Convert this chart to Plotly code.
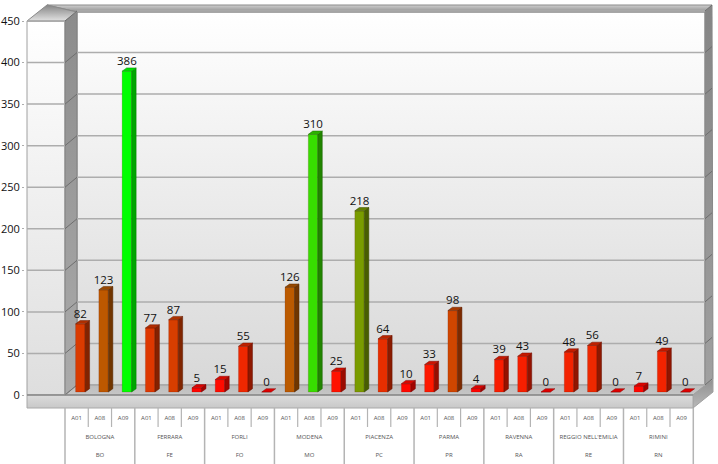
import plotly.graph_objects as go

# ---------- data ----------
codes = ["A01", "A08", "A09"]
provinces = ["BOLOGNA", "FERRARA", "FORLI", "MODENA", "PIACENZA", "PARMA", "RAVENNA", "REGGIO NELL'EMILIA", "RIMINI"]
sigle = ["BO", "FE", "FO", "MO", "PC", "PR", "RA", "RE", "RN"]
values = [82, 123, 386, 77, 87, 5, 15, 55, 0, 126, 310, 25, 218, 64, 10,
          33, 98, 4, 39, 43, 0, 48, 56, 0, 7, 49, 0]
y_ticks = [0, 50, 100, 150, 200, 250, 300, 350, 400, 450]

# ---------- scene geometry (pixel scale of the 718x464 page) ----------
W, H = 718, 464
ML = 25
UX = 23.27          # px per bar slot
X0 = 65             # px of left edge of slot 0
UY = 374 / 450      # px per value unit
Y0 = 395            # px of value 0


def dx(px):
    return -0.5 + (px - X0) / UX


def dy(py):
    return (Y0 - py) / UY


def ypx(v):
    return Y0 - v * UY


fig = go.Figure()


def poly(pts, c_low, c_high=None, line="rgba(120,120,120,0.9)", lw=1):
    """Chrome polygon on the primary axes; c_low bottom colour, c_high top colour."""
    xs = [dx(p[0]) for p in pts] + [dx(pts[0][0])]
    ys = [dy(p[1]) for p in pts] + [dy(pts[0][1])]
    tr = dict(x=xs, y=ys, mode="lines", line=dict(color=line, width=lw), fill="toself",
              hoverinfo="skip", showlegend=False)
    if c_high is None:
        tr["fillcolor"] = c_low
    else:
        tr["fillgradient"] = dict(type="vertical", colorscale=[[0, c_low], [1, c_high]])
    fig.add_trace(go.Scatter(**tr))


def seg(p, q, color="#adadad", w=1.5):
    fig.add_trace(go.Scatter(x=[dx(p[0]), dx(q[0])], y=[dy(p[1]), dy(q[1])], mode="lines",
                             line=dict(color=color, width=w), hoverinfo="skip", showlegend=False))


TOP = ypx(450)
BX, BD = 77, 10     # back wall offset
RB = 705            # back wall right edge
FR = 693            # front right edge
SL = 408            # slab bottom

# walls
poly([(77, 12), (RB, 12), (RB, 385), (77, 385)], "#d8d8d8", "#ffffff", line="#8c8c8c")
poly([(27, TOP), (65, TOP), (65, 395), (27, 395)], "#dedede", "#ffffff", line="#a0a0a0")
poly([(65, TOP), (77, 12), (77, 385), (65, 395)], "#ababab", "#8c8c8c", line="#808080")
poly([(RB, 12), (712, 5), (713, 379), (RB, 385)], "#a0a0a0", "#858585", line="#888888")
# top band and corner
poly([(47, 5), (712, 5), (RB, 12), (77, 12)], "#8f8f8f", "#cfcfcf", line="#8a8a8a")
poly([(27, TOP), (47, 5), (77, 12), (65, TOP)], "#e2e2e2", "#858585", line="#8a8a8a")
# floor and slab
poly([(65, 395), (77, 385), (RB, 385), (713, 379), (FR, 395)], "#c6c6c6", "#b8b8b8", line="#a0a0a0")
poly([(FR, 395), (713, 379), (713, 392), (FR, SL)], "#b8b8b8", "#909090", line="#a0a0a0")
poly([(27, 395), (FR, 395), (FR, SL), (27, SL)], "#c8c8c8", "#dcdcdc", line="#a8a8a8")

# grid
for t in y_ticks:
    yf = ypx(t)
    if t:
        seg((27, yf), (65, yf))
    seg((65, yf), (77, yf - BD), color="#6e6e6e", w=1)
    seg((77, yf - BD), (RB, yf - BD))
    seg((RB, yf - BD), (712, yf - BD - 6), color="#6e6e6e", w=1)
seg((27, 395), (FR, 395), color="#8a8a8a", w=1.5)

# table below the slab
n = len(values)
for i in range(n + 1):
    px = X0 + i * UX
    if i % len(codes) == 0:
        seg((px, SL), (px, H), color="#b4b4b4", w=1.5)
    else:
        seg((px, SL), (px, 427), color="#b4b4b4", w=1.2)

LAB = "#555555"
FONT = "Open Sans, sans-serif"
xs_all = list(range(n))
fig.add_trace(go.Scatter(x=xs_all, y=[dy(418)] * n, mode="text",
                         text=[codes[i % 3] for i in range(n)],
                         textfont=dict(size=6, color=LAB, family=FONT),
                         hoverinfo="skip", showlegend=False))
gx = [3 * g + 1 for g in range(len(provinces))]
fig.add_trace(go.Scatter(x=gx, y=[dy(437)] * len(gx), mode="text", text=provinces,
                         textfont=dict(size=6, color=LAB, family=FONT),
                         hoverinfo="skip", showlegend=False))
fig.add_trace(go.Scatter(x=gx, y=[dy(455.5)] * len(gx), mode="text", text=sigle,
                         textfont=dict(size=6, color=LAB, family=FONT),
                         hoverinfo="skip", showlegend=False))

# ---------- bars (overlay axes so they sit above the chrome) ----------
vmax = max(values)


def rgb(v, k=1.0):
    t = v / vmax
    s = 1.12 * k
    return "rgb(%d,%d,0)" % (min(255, round(255 * (1 - t) * s)), min(255, round(255 * t * s)))


BASE = 3.6          # bars stand a little behind the zero line
BW = 9.5 / UX
SHIFT = 3.7 / UX
DX = 4.5 / UX
DY = 3.3 / UY
bx = [i + SHIFT for i in xs_all]

fig.add_trace(go.Bar(x=bx, y=values, base=BASE, width=BW, xaxis="x2", yaxis="y2",
                     marker=dict(color=[rgb(v, 0.97) for v in values],
                                 line=dict(color="rgba(90,20,0,0.35)", width=0.5)),
                     hoverinfo="skip", showlegend=False))
for x, v in zip(bx, values):
    l, r = x - BW / 2, x + BW / 2
    top = BASE + v
    if v > 0:
        fig.add_trace(go.Scatter(x=[r, r + DX, r + DX, r, r], y=[BASE, BASE + DY, top + DY, top, BASE],
                                 xaxis="x2", yaxis="y2", mode="lines", fill="toself",
                                 fillcolor=rgb(v, 0.58), line=dict(color=rgb(v, 0.42), width=0.5),
                                 hoverinfo="skip", showlegend=False))
    fig.add_trace(go.Scatter(x=[l, l + DX, r + DX, r, l], y=[top, top + DY, top + DY, top, top],
                             xaxis="x2", yaxis="y2", mode="lines", fill="toself",
                             fillcolor=rgb(v, 0.78), line=dict(color=rgb(v, 0.48), width=0.5),
                             hoverinfo="skip", showlegend=False))

fig.add_trace(go.Scatter(x=bx, y=[BASE + v + DY for v in values], xaxis="x2", yaxis="y2",
                         mode="text", text=[str(v) for v in values], textposition="top center",
                         textfont=dict(size=11.5, color="#111111", family=FONT),
                         hoverinfo="skip", showlegend=False))

xr = [dx(ML), dx(W)]
yr = [dy(H), dy(0)]
fig.update_layout(
    width=W, height=H, autosize=False,
    margin=dict(l=ML, r=0, t=0, b=0),
    paper_bgcolor="white", plot_bgcolor="white",
    barmode="overlay", showlegend=False, hovermode=False,
    xaxis=dict(range=xr, visible=False, fixedrange=True),
    yaxis=dict(range=yr, tickmode="array", tickvals=y_ticks, ticktext=[str(t) for t in y_ticks],
               showgrid=False, zeroline=False, showline=False, ticks="outside", ticklen=2,
               tickcolor="#adadad", tickfont=dict(size=11, color="#111111", family=FONT),
               ticklabelstandoff=0, fixedrange=True),
    xaxis2=dict(range=xr, visible=False, overlaying="x", fixedrange=True),
    yaxis2=dict(range=yr, visible=False, overlaying="y", fixedrange=True),
)

fig.write_html("out.html", config={"displayModeBar": False},
               post_script="document.body.style.margin='0';document.documentElement.style.overflow='hidden';")
